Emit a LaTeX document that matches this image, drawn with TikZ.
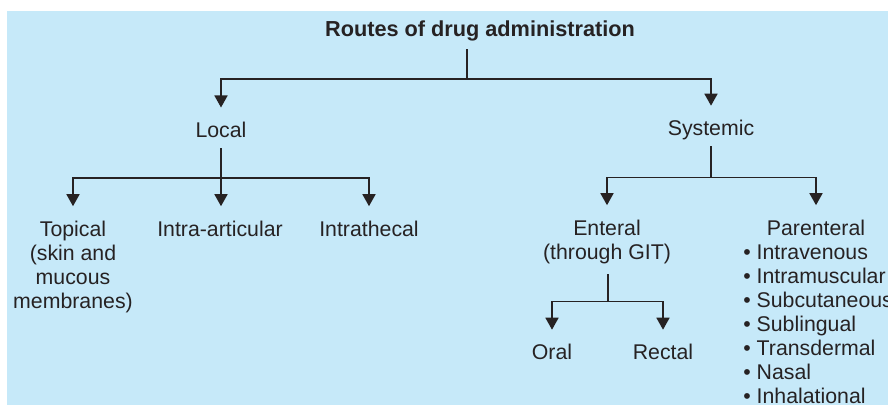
\documentclass[tikz,border=0pt]{standalone}
\usepackage{fontspec}
\setmainfont{Liberation Sans}
\usetikzlibrary{arrows.meta}

\newcommand{\firststrut}{\rule{0pt}{19pt}}

\begin{document}
\begin{tikzpicture}[
        x=1pt,y=-1pt,
        line width=1.6pt,
        lbl/.style={anchor=base,inner xsep=0pt,inner ysep=10pt,
            align=center,font=\fontsize{21.3}{24}\selectfont,text=ink},
        arr/.style={-{Triangle[width=13pt,length=12pt]}}
    ]
    \definecolor{bgx}{RGB}{198,233,249}
    \definecolor{ink}{RGB}{38,34,35}

    \useasboundingbox (0,0) rectangle (888,406);
    \fill [bgx] (7,11) rectangle (888,405);

    % top level
    \node (title) [lbl,inner ysep=7pt,font=\fontsize{21.7}{24}\selectfont\bfseries] at (480,37) {Routes of drug administration};
    \node (loc)   [lbl,text height=19pt]                at (221,137.3) {Local};
    \node (sys)   [lbl,text height=19pt,text depth=0pt] at (711,135.5) {Systemic};

    % local branch (multi-line nodes sit on their last line)
    \begin{scope}[every node/.style={lbl}]
        \node (top)  at (73,308)                  {\firststrut Topical\\(skin and\\mucous\\membranes)};
        \node (iart) [text height=19pt] at (220,236) {Intra-articular};
        \node (ithe) [text height=19pt] at (369,236) {Intrathecal};
    \end{scope}

    % systemic branch
    \begin{scope}[every node/.style={lbl}]
        \node (ent)  at (607,259)                       {\firststrut Enteral\\(through GIT)};
        \node (par)  [text height=19pt] at (816,235)    {Parenteral};
        \node (oral) [text height=19pt] at (552,359.5)  {Oral};
        \node (rect) [text height=19pt] at (663,359.5)  {Rectal};
    \end{scope}
    \node (plist) [lbl,anchor=base west,align=left] at (742.5,403.5)
        {• Intravenous\\• Intramuscular\\• Subcutaneous\\• Sublingual\\• Transdermal\\• Nasal\\• Inhalational};

    \coordinate (j0) at (467,79);
    \coordinate (jl) at (221,178);
    \coordinate (js) at (711,177.5);
    \coordinate (je) at (608,301.5);

    \begin{scope}[draw=ink]
        \draw       (j0 |- title.south) -- (j0);
        \draw [arr] (j0) -| (loc);
        \draw [arr] (j0) -| (sys);

        \draw       (loc) -- (jl);
        \draw [arr] (jl) -| (top);
        \draw [arr] (jl) -- (jl |- iart.north);
        \draw [arr] (jl) -| (ithe);

        \draw       (sys) -- (js);
        \draw [arr] (js) -| (ent);
        \draw [arr] (js) -| (par);

        \draw       (je |- ent.south) -- (je);
        \draw [arr] (je) -| (oral);
        \draw [arr] (je) -| (rect);
    \end{scope}
\end{tikzpicture}
\end{document}
